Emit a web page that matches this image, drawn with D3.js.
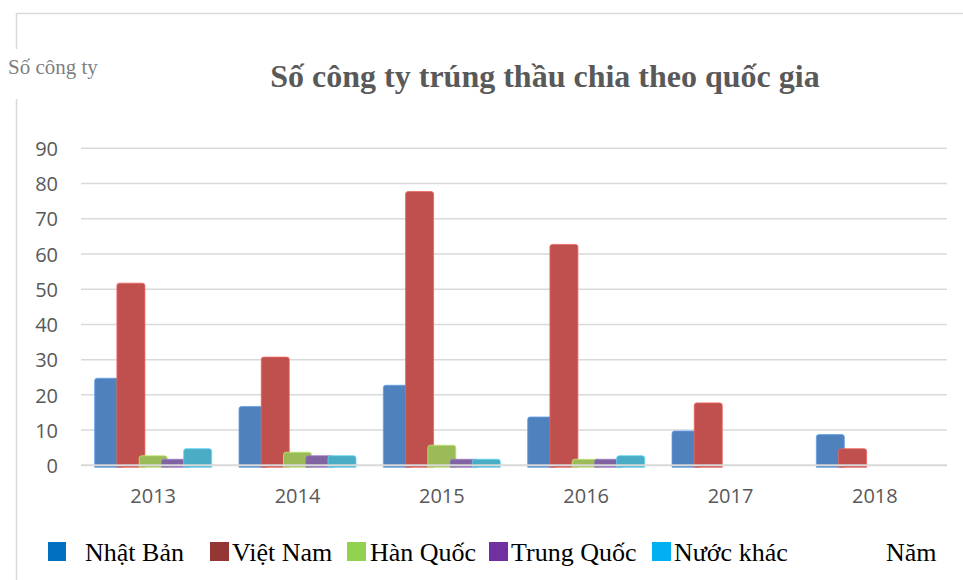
<!DOCTYPE html>
<html>
<head>
<meta charset="utf-8">
<script src="https://cdn.jsdelivr.net/npm/d3@7"></script>
<style>
  body { margin: 0; background: #fff; }
  svg { display: block; }
</style>
</head>
<body>
<div class="chart"></div>
<script>
var years = ["2013", "2014", "2015", "2016", "2017", "2018"];
var series = ["Nhật Bản", "Việt Nam", "Hàn Quốc", "Trung Quốc", "Nước khác"];
var nhatBan = [25, 17, 23, 14, 10, 9];
var vietNam = [52, 31, 78, 63, 18, 5];
var hanQuoc = [3, 4, 6, 2, 0, 0];
var trungQuoc = [2, 3, 2, 2, 0, 0];
var nuocKhac = [5, 3, 2, 3, 0, 0];
var yTicks = [0, 10, 20, 30, 40, 50, 60, 70, 80, 90];

var barColors = ["#4f81bd", "#c0504d", "#9bbb59", "#8064a2", "#4bacc6"];
var legendColors = ["#0070c0", "#943634", "#92d050", "#7030a0", "#00b0f0"];
var legendBoxX = [48, 210, 347, 489, 652];
var legendTextX = [85, 232, 370, 511, 674];

var svgWidth = 963;
var svgHeight = 580;

var svg = d3.select(".chart")
    .append("svg")
    .attr("width", svgWidth)
    .attr("height", svgHeight);

// outer frame (partial, like the source document)
svg.append("line")
    .attr("x1", 16).attr("x2", 963).attr("y1", 13.5).attr("y2", 13.5)
    .attr("stroke", "#d9d9d9").attr("stroke-width", 1.5);
svg.append("line")
    .attr("x1", 16.5).attr("x2", 16.5).attr("y1", 13).attr("y2", 49)
    .attr("stroke", "#d9d9d9").attr("stroke-width", 1.5);
svg.append("line")
    .attr("x1", 16.5).attr("x2", 16.5).attr("y1", 99).attr("y2", 580)
    .attr("stroke", "#d9d9d9").attr("stroke-width", 1.5);

var x0 = d3.scaleBand()
    .domain(years)
    .range([81, 947]);

var barW = 28;
var x1 = d3.scaleBand()
    .domain(series)
    .range([-58.5, 52.75]);

var y = d3.scaleLinear()
    .domain([0, 90])
    .range([465.3, 148.3]);

// gridlines
svg.append("g")
    .selectAll("line")
    .data(yTicks.filter(d => d > 0))
    .enter()
    .append("line")
    .attr("x1", 81).attr("x2", 947)
    .attr("y1", d => y(d)).attr("y2", d => y(d))
    .attr("stroke", "#d9d9d9").attr("stroke-width", 1.5);

// y axis labels
var yAxis = d3.axisLeft(y).tickValues(yTicks).tickSize(0).tickPadding(0);
var yAxisG = svg.append("g")
    .attr("transform", "translate(58,0)")
    .call(yAxis);
yAxisG.select(".domain").remove();
yAxisG.selectAll("text")
    .attr("font-family", "Open Sans")
    .attr("font-size", 20)
    .attr("fill", "#595959")
    .attr("dy", "0.36em");

var allValues = [nhatBan, vietNam, hanQuoc, trungQuoc, nuocKhac];
var barData = [];
series.forEach(function (s, i) {
    years.forEach(function (yr, j) {
        if (allValues[i][j] > 0) {
            barData.push({ series: s, idx: i, year: yr, value: allValues[i][j] });
        }
    });
});

function barPath(d) {
    var left = x0(d.year) + x0.bandwidth() / 2 + x1(d.series);
    var top = y(d.value) + 1;
    var bottom = y(0) + 2;
    var r = 2.5;
    return "M" + left + "," + bottom +
        "V" + (top + r) +
        "Q" + left + "," + top + " " + (left + r) + "," + top +
        "H" + (left + barW - r) +
        "Q" + (left + barW) + "," + top + " " + (left + barW) + "," + (top + r) +
        "V" + bottom + "Z";
}

svg.append("g")
    .selectAll("path")
    .data(barData)
    .enter()
    .append("path")
    .attr("d", barPath)
    .attr("fill", d => barColors[d.idx])
    .attr("stroke", d => d3.color(barColors[d.idx]).brighter(0.6))
    .attr("stroke-width", 0.8);

// baseline over the bars
svg.append("line")
    .attr("x1", 81).attr("x2", 947)
    .attr("y1", y(0)).attr("y2", y(0))
    .attr("stroke", "#d9d9d9").attr("stroke-width", 2);

// x axis labels
var xAxis = d3.axisBottom(x0).tickSize(0).tickPadding(0);
var xAxisG = svg.append("g")
    .attr("transform", "translate(0,503)")
    .call(xAxis);
xAxisG.select(".domain").remove();
xAxisG.selectAll("text")
    .attr("font-family", "Open Sans")
    .attr("font-size", 20)
    .attr("fill", "#595959")
    .attr("dy", 0);

// title
svg.append("text")
    .attr("x", 545)
    .attr("y", 87)
    .attr("text-anchor", "middle")
    .attr("font-family", "Liberation Serif")
    .attr("font-weight", "bold")
    .attr("font-size", 32)
    .attr("fill", "#595959")
    .text("Số công ty trúng thầu chia theo quốc gia");

// y axis title
svg.append("text")
    .attr("x", 8)
    .attr("y", 74)
    .attr("font-family", "Liberation Serif")
    .attr("font-size", 21)
    .attr("fill", "#7f7f7f")
    .text("Số công ty");

// legend
var legend = svg.append("g");
legend.selectAll("rect")
    .data(series)
    .enter()
    .append("rect")
    .attr("x", (d, i) => legendBoxX[i])
    .attr("y", 542)
    .attr("width", (d, i) => i === 0 ? 18 : 19)
    .attr("height", 19)
    .attr("fill", (d, i) => legendColors[i]);

legend.selectAll("text")
    .data(series)
    .enter()
    .append("text")
    .attr("x", (d, i) => legendTextX[i])
    .attr("y", 561)
    .attr("font-family", "Liberation Serif")
    .attr("font-size", 26)
    .attr("fill", "#000")
    .text(d => d);

// x axis title
svg.append("text")
    .attr("x", 886)
    .attr("y", 561)
    .attr("font-family", "Liberation Serif")
    .attr("font-size", 26)
    .attr("fill", "#000")
    .text("Năm");
</script>
</body>
</html>
